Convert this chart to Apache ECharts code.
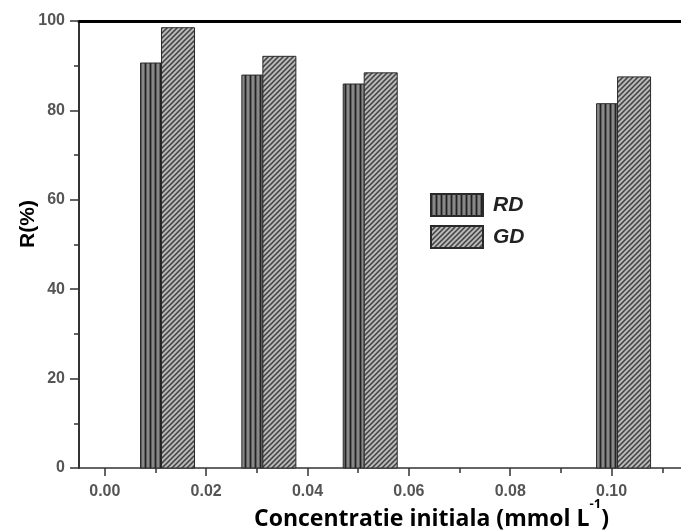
<!DOCTYPE html>
<html>
<head>
<meta charset="utf-8">
<script src="https://cdn.jsdelivr.net/npm/echarts@6/dist/echarts.min.js"></script>
<style>
html,body{margin:0;padding:0;background:#fff;}
#chart{width:681px;height:530px;}
</style>
</head>
<body>
<div id="chart"></div>
<script>
// ---- data ----
const concentrations = [0.01, 0.03, 0.05, 0.10];
const rdValues = [90.6, 87.9, 85.9, 81.5];
const gdValues = [98.5, 92.1, 88.4, 87.5];
const seriesNames = ['RD', 'GD'];
const xMajorTicks = [0.00, 0.02, 0.04, 0.06, 0.08, 0.10];
const xMinorTicks = [0.01, 0.03, 0.05, 0.07, 0.09, 0.11];
const yMin = 0, yMax = 100, yInterval = 20;
const xMin = -0.0051, xMax = 0.1137;
const xTitle = 'Concentratie initiala (mmol L';
const xTitleSup = '-1';
const yTitle = 'R(%)';

// ---- patterns ----
function rdPattern() {
  const c = document.createElement('canvas');
  c.width = 5; c.height = 4;
  const g = c.getContext('2d');
  g.fillStyle = '#5e5e5e'; g.fillRect(0, 0, 5, 4);
  g.fillStyle = '#222'; g.fillRect(0, 0, 1, 4);
  g.fillStyle = '#888'; g.fillRect(2, 0, 2, 4);
  return { image: c, repeat: 'repeat' };
}
function gdPattern() {
  const c = document.createElement('canvas');
  c.width = 5; c.height = 5;
  const g = c.getContext('2d');
  g.fillStyle = '#b8b8b8'; g.fillRect(0, 0, 5, 5);
  g.strokeStyle = '#404040'; g.lineWidth = 1.5;
  g.beginPath();
  g.moveTo(-1, 6); g.lineTo(6, -1);
  g.moveTo(-3, 3); g.lineTo(3, -3);
  g.moveTo(2, 8); g.lineTo(8, 2);
  g.stroke();
  return { image: c, repeat: 'repeat' };
}
const rdFill = rdPattern();
const gdFill = gdPattern();

function barRenderer(offset, width, fill) {
  return function (params, api) {
    const x = api.value(0), y = api.value(1);
    const top = api.coord([x, y]);
    const base = api.coord([x, 0]);
    return {
      type: 'rect',
      shape: { x: top[0] + offset, y: top[1], width: width, height: base[1] - top[1] },
      style: { fill: fill, stroke: '#2a2a2a', lineWidth: 1 }
    };
  };
}

const chart = echarts.init(document.getElementById('chart'), null, { renderer: 'canvas' });
const gridPos = { left: 79, right: 0, top: 21, bottom: 62 };
const tickColor = '#333';
const labelStyle = { color: '#555', fontSize: 16, fontWeight: 'bold', fontFamily: 'Liberation Sans, Arial' };

chart.setOption({
  animation: false,
  backgroundColor: '#fff',
  grid: [Object.assign({}, gridPos), Object.assign({}, gridPos)],
  xAxis: [
    {
      type: 'value', gridIndex: 0, position: 'bottom', min: xMin, max: xMax,
      axisLine: { show: true, onZero: false, lineStyle: { color: tickColor, width: 1.5 } },
      axisTick: { show: true, customValues: xMajorTicks, length: 8, lineStyle: { color: tickColor, width: 1.5 } },
      axisLabel: Object.assign({ customValues: xMajorTicks, margin: 16, formatter: v => v.toFixed(2) }, labelStyle),
      splitLine: { show: false }
    },
    {
      type: 'value', gridIndex: 0, position: 'top', min: xMin, max: xMax,
      axisLine: { show: true, onZero: false, lineStyle: { color: '#000', width: 3 } },
      axisTick: { show: false }, axisLabel: { show: false }, splitLine: { show: false }
    },
    {
      type: 'value', gridIndex: 1, position: 'bottom', min: xMin, max: xMax,
      axisLine: { show: false },
      axisTick: { show: true, customValues: xMinorTicks, length: 5, lineStyle: { color: tickColor, width: 1.5 } },
      axisLabel: { show: false }, splitLine: { show: false }
    }
  ],
  yAxis: [
    {
      type: 'value', gridIndex: 0, min: yMin, max: yMax, interval: yInterval,
      axisLine: { show: true, onZero: false, lineStyle: { color: tickColor, width: 2 } },
      axisTick: { show: true, length: 9, lineStyle: { color: tickColor, width: 1.5 } },
      minorTick: { show: true, splitNumber: 2, length: 5, lineStyle: { color: tickColor, width: 1.5 } },
      axisLabel: Object.assign({ margin: 14 }, labelStyle),
      splitLine: { show: false }
    },
    {
      type: 'value', gridIndex: 1, min: yMin, max: yMax, show: false
    }
  ],
  legend: {
    orient: 'vertical', left: 430, top: 193, padding: 0,
    itemWidth: 52, itemHeight: 22, itemGap: 8,
    icon: 'rect',
    data: seriesNames,
    textStyle: { fontSize: 21, fontWeight: 'bold', fontStyle: 'italic', color: '#222', fontFamily: 'Liberation Sans, Arial', padding: [0, 0, 0, 5] }
  },
  graphic: [
    {
      type: 'text', left: 254, top: 498,
      style: {
        text: '{a|' + xTitle + '}{s|' + xTitleSup + '}{a|)}',
        rich: {
          a: { fontSize: 23, fontWeight: 'bold', fontFamily: 'Open Sans', fill: '#000', verticalAlign: 'bottom' },
          s: { fontSize: 13, fontWeight: 'bold', fontFamily: 'Open Sans', fill: '#000', verticalAlign: 'top', padding: [0, 0, 20, 0] }
        }
      }
    },
    {
      type: 'text', x: 28, y: 224, rotation: Math.PI / 2,
      style: { text: yTitle, fontSize: 21, fontWeight: 'bold', fontFamily: 'Liberation Sans, Arial', fill: '#000', align: 'center', verticalAlign: 'middle' }
    }
  ],
  series: [
    {
      name: seriesNames[0], type: 'custom', xAxisIndex: 0, yAxisIndex: 0,
      itemStyle: { color: rdFill, borderColor: '#2a2a2a', borderWidth: 1 },
      renderItem: barRenderer(-15, 21, rdFill),
      data: concentrations.map((c, i) => [c, rdValues[i]])
    },
    {
      name: seriesNames[1], type: 'custom', xAxisIndex: 0, yAxisIndex: 0,
      itemStyle: { color: gdFill, borderColor: '#2a2a2a', borderWidth: 1 },
      renderItem: barRenderer(6, 33, gdFill),
      data: concentrations.map((c, i) => [c, gdValues[i]])
    }
  ]
});
</script>
</body>
</html>
